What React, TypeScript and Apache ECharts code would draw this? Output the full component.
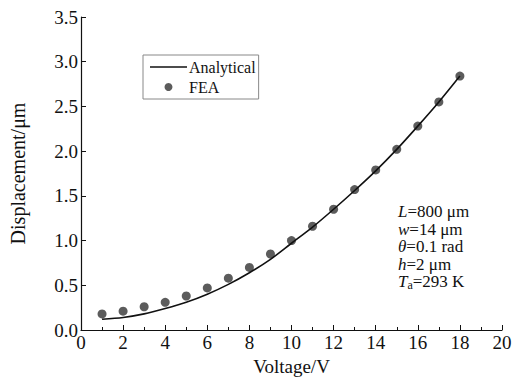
import React, { useEffect, useRef } from "react";
import * as echarts from "echarts";

const voltages = [1, 2, 3, 4, 5, 6, 7, 8, 9, 10, 11, 12, 13, 14, 15, 16, 17, 18];
const feaValues = [0.18, 0.21, 0.26, 0.31, 0.38, 0.47, 0.58, 0.70, 0.85, 1.00, 1.16, 1.35, 1.57, 1.79, 2.02, 2.28, 2.55, 2.84];
const analyticalValues = [0.12, 0.14, 0.18, 0.24, 0.31, 0.40, 0.51, 0.64, 0.79, 0.97, 1.15, 1.35, 1.56, 1.78, 2.02, 2.28, 2.55, 2.84];
const annotationLines = [
  "{i|L}=800 μm",
  "{i|w}=14 μm",
  "{i|θ}=0.1 rad",
  "{i|h}=2 μm",
  "{i|T}{sub|a}=293 K",
];

const FONT = "Liberation Serif";

export default function App() {
  const ref = useRef<HTMLDivElement>(null);
  useEffect(() => {
    if (!ref.current) return;
    document.body.style.margin = "0";
    const chart = echarts.init(ref.current, undefined, { renderer: "svg" });
    const annoTop = 203;
    const annoStep = 17.5;
    chart.setOption({
      animation: false,
      backgroundColor: "#fff",
      textStyle: { fontFamily: FONT, color: "#111" },
      grid: { left: 81, right: 11, top: 17, bottom: 48, containLabel: false, outerBoundsMode: "none" },
      legend: {
        orient: "vertical",
        left: 143,
        top: 55,
        padding: [4, 3, 4, 7],
        itemGap: 4,
        itemWidth: 37,
        itemHeight: 8,
        borderColor: "#888",
        borderWidth: 1,
        backgroundColor: "#fff",
        textStyle: { fontFamily: FONT, fontSize: 16, color: "#111", padding: [0, 0, 0, -3] },
        data: [
          { name: "Analytical", icon: "path://M0,0M0,3.2L37,3.2L37,4.8L0,4.8ZM37,8" },
          { name: "FEA", icon: "circle" },
        ],
      },
      xAxis: {
        type: "value",
        min: 0,
        max: 20,
        interval: 2,
        name: "Voltage/V",
        nameLocation: "middle",
        nameGap: 22,
        nameTextStyle: { fontFamily: FONT, fontSize: 19, color: "#111" },
        axisLine: { lineStyle: { color: "#111", width: 1.2 } },
        axisTick: { inside: true, length: 5, lineStyle: { color: "#111" } },
        minorTick: { show: true, splitNumber: 2, length: 3, lineStyle: { color: "#111" } },
        axisLabel: { fontFamily: FONT, fontSize: 19, color: "#111", margin: 3 },
        splitLine: { show: false },
      },
      yAxis: {
        type: "value",
        min: 0,
        max: 3.5,
        interval: 0.5,
        name: "Displacement/μm",
        nameLocation: "middle",
        nameGap: 53,
        nameTextStyle: { fontFamily: FONT, fontSize: 20, color: "#111" },
        axisLine: { show: true, lineStyle: { color: "#111", width: 1.2 } },
        axisTick: { show: true, inside: true, length: 5, lineStyle: { color: "#111" } },
        axisLabel: {
          fontFamily: FONT,
          fontSize: 19,
          color: "#111",
          margin: 3,
          formatter: (v: number) => v.toFixed(1),
        },
        splitLine: { show: false },
      },
      series: [
        {
          name: "Analytical",
          type: "line",
          smooth: 0.3,
          symbol: "none",
          lineStyle: { color: "#111", width: 1.6 },
          itemStyle: { color: "#111" },
          data: voltages.map((v, i) => [v, analyticalValues[i]]),
        },
        {
          name: "FEA",
          type: "scatter",
          symbol: "circle",
          symbolSize: 9,
          itemStyle: { color: "#333" },
          data: voltages.map((v, i) => [v, feaValues[i]]),
        },
      ],
      graphic: annotationLines.map((t, i) => ({
        type: "text",
        left: 398,
        top: annoTop + i * annoStep,
        style: {
          text: t,
          font: `17px ${FONT}`,
          fill: "#111",
          rich: {
            i: { fontStyle: "italic", fontFamily: FONT, fontSize: 17, fill: "#111" },
            sub: { fontFamily: FONT, fontSize: 12, fill: "#111", padding: [6, 0, 0, 0] },
          },
        },
      })),
    });
    return () => chart.dispose();
  }, []);
  return <div ref={ref} style={{ position: "absolute", left: 0, top: 0, width: 513, height: 378 }} />;
}
